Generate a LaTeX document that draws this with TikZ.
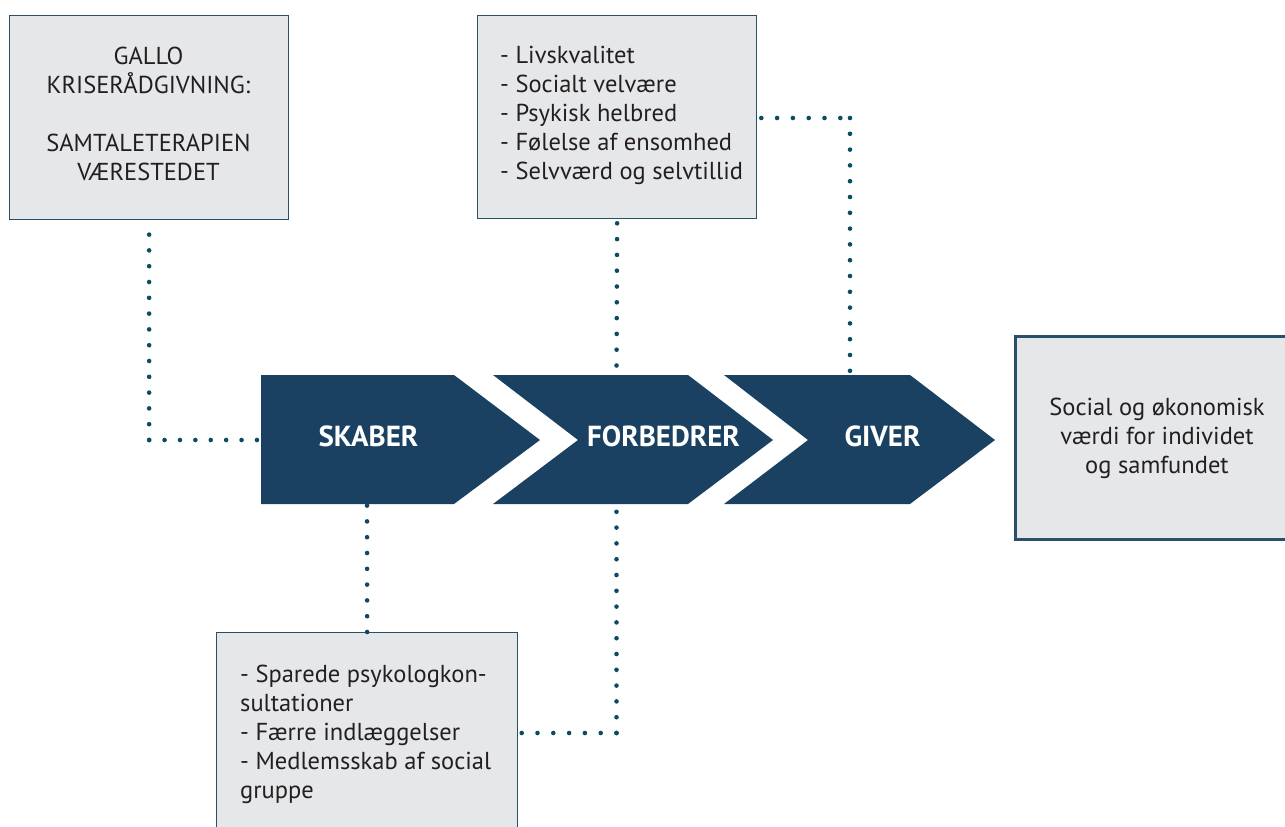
\documentclass[tikz,border=0pt]{standalone}
\usepackage{fontspec}
\setmainfont{PT Sans}
\definecolor{navy}{HTML}{1A4161}
\definecolor{dotc}{HTML}{0D4A66}
\definecolor{boxfill}{HTML}{E6E7E9}
\definecolor{boxline}{HTML}{2A4F6A}
\definecolor{txt}{HTML}{231F20}
\begin{document}
\begin{tikzpicture}[x=1pt,y=-1pt,
  box/.style={draw=boxline, line width=1.3pt, fill=boxfill, inner sep=0pt},
  chev/.style={fill=navy},
  dots/.style={draw=dotc, line width=4.6pt, line cap=round, dash pattern=on 0pt off 15.8pt},
  body/.style={text=txt, font=\fontsize{24.5}{29}\selectfont, inner sep=0pt},
  chevtxt/.style={text=white, font=\bfseries\fontsize{29}{32}\selectfont, inner sep=0pt}]
\useasboundingbox (0,0) rectangle (1285,827);
\clip (0,0) rectangle (1285,827);
% boxes
\node[box, minimum width=279pt, minimum height=204pt, anchor=north west] (b1) at (9,15) {};
\node[box, minimum width=279pt, minimum height=203pt, anchor=north west] (b2) at (477,15) {};
\node[box, minimum width=301pt, minimum height=230pt, anchor=north west] (b3) at (216,632) {};
\node[box, line width=2.5pt, minimum width=300pt, minimum height=203pt, anchor=north west] (b4) at (1014,335) {};
% texts
\node[body, align=center] (t1) at (148.5,114) {GALLO\\KRISERÅDGIVNING:\\\mbox{}\\SAMTALETERAPIEN\\VÆRESTEDET};
\node[body, align=left, anchor=west] (t2) at (500,115) {- Livskvalitet\\- Socialt velvære\\- Psykisk helbred\\- Følelse af ensomhed\\- Selvværd og selvtillid};
\node[body, align=left, anchor=west] (t3) at (240,734) {- Sparede psykologkon-\\sultationer\\- Færre indlæggelser\\- Medlemsskab af social\\gruppe};
\node[body, align=center] (t4) at (1157,438) {Social og økonomisk\\værdi for individet\\og samfundet};
% chevrons
\fill[chev] (261,375) -- (454,375) -- (540,440) -- (454,504) -- (261,504) -- cycle;
\fill[chev] (493,375) -- (688,375) -- (773,440) -- (688,504) -- (493,504) -- (578,440) -- cycle;
\fill[chev] (724,375) -- (910,375) -- (995,440) -- (910,504) -- (724,504) -- (808,440) -- cycle;
\node[chevtxt] (skaber) at (368.5,436) {SKABER};
\node[chevtxt] (forb) at (663.5,436) {FORBEDRER};
\node[chevtxt] (giver) at (882.5,436) {GIVER};
% connection points
\coordinate (c1w) at (261,440);
\coordinate (c1s) at (367,491);
\coordinate (c2n) at (616.5,375);
\coordinate (c2s) at (616.5,504);
\coordinate (c3n) at (850,375);
\coordinate (k3) at (850,118);
\coordinate (k5) at (616.5,733);
% connectors
\draw[dots, shorten >=13pt] (b1.south |- c1w) -- (b1.south);
\draw[dots, dash pattern=on 0pt off 15.4pt, shorten >=1pt] (b1.south |- c1w) -- (c1w);
\draw[dots, shorten <=4pt] (b2.south) -- (c2n);
\draw[dots, shorten <=4pt] (b2.east |- k3) -- (k3);
\draw[dots, shorten >=3pt] (k3) -- (c3n);
\draw[dots, shorten >=6pt] (b3.north) -- (c1s);
\draw[dots] (k5) -- (c2s);
\draw[dots, shorten >=3pt] (k5) -- (b3.east |- k5);
\end{tikzpicture}
\end{document}
